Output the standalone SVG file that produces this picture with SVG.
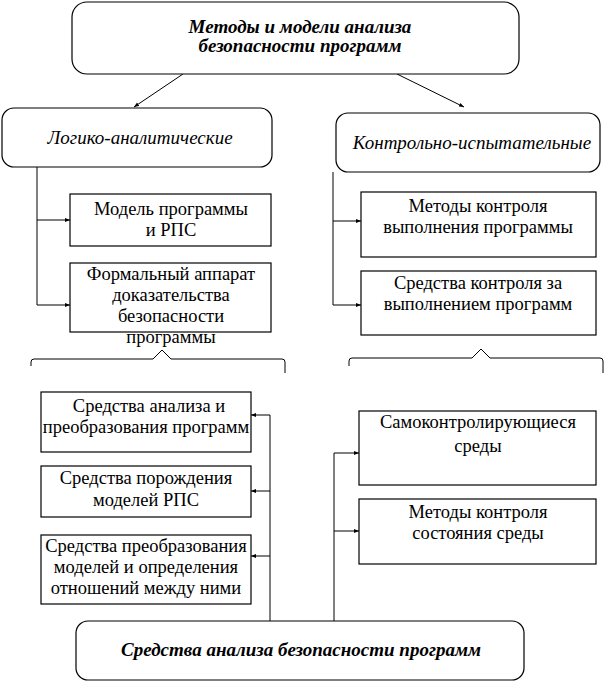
<svg xmlns="http://www.w3.org/2000/svg" width="605" height="682" viewBox="0 0 605 682">
<defs>
<marker id="ah" viewBox="0 0 10 10" refX="10" refY="5" markerWidth="5" markerHeight="5" orient="auto" markerUnits="userSpaceOnUse">
<path d="M0,1 L10,5 L0,9 Z" fill="#000"/>
</marker>
<style>
.box{fill:#fff;stroke:#000;stroke-width:1.2}
.rbox{fill:#fff;stroke:#000;stroke-width:1.2}
.t{font-family:"Liberation Serif","Times New Roman",serif;font-size:18.5px;fill:#000;text-anchor:middle}
.bi{font-family:"Liberation Serif","Times New Roman",serif;font-size:19px;font-weight:bold;font-style:italic;fill:#000;text-anchor:middle}
.it{font-family:"Liberation Serif","Times New Roman",serif;font-size:19px;font-style:italic;fill:#000;text-anchor:middle}
.c{fill:none;stroke:#000;stroke-width:1}
</style>
</defs>
<rect width="605" height="682" fill="#fff"/>

<g id="connectors">
<line class="c" x1="183" y1="74" x2="134" y2="107" marker-end="url(#ah)"/>
<line class="c" x1="397" y1="74" x2="464" y2="107" marker-end="url(#ah)"/>
<polyline class="c" points="37,167 37,305 70,305" marker-end="url(#ah)"/>
<line class="c" x1="37" y1="220" x2="70" y2="220" marker-end="url(#ah)"/>
<polyline class="c" points="333,172 333,305 361,305" marker-end="url(#ah)"/>
<line class="c" x1="333" y1="221" x2="361" y2="221" marker-end="url(#ah)"/>
<path class="c" d="M31,366 L31,362 Q31,359 34,359 L153,359 L162,350 L171,359 L282,359 Q285,359 285,362 L285,373"/>
<path class="c" d="M349,366 L349,361 Q349,358 352,358 L472,358 L481,349 L490,358 L600,358 Q603,358 603,361 L603,373"/>
<polyline class="c" points="270,621 270,415 251,415" marker-end="url(#ah)"/>
<line class="c" x1="270" y1="491" x2="251" y2="491" marker-end="url(#ah)"/>
<line class="c" x1="270" y1="556" x2="251" y2="556" marker-end="url(#ah)"/>
<polyline class="c" points="334,621 334,453 359,453" marker-end="url(#ah)"/>
<line class="c" x1="334" y1="531" x2="359" y2="531" marker-end="url(#ah)"/>
</g>

<g id="root">
<rect class="rbox" x="72" y="2" width="447" height="72" rx="15"/>
<text class="bi" x="300" y="33">Методы и модели анализа</text>
<text class="bi" x="300" y="52">безопасности программ</text>
</g>

<g id="logic">
<rect class="rbox" x="2" y="108" width="270" height="59" rx="12"/>
<text class="it" x="140" y="144">Логико-аналитические</text>
</g>

<g id="control">
<rect class="rbox" x="336" y="113" width="264" height="59" rx="12"/>
<text class="it" x="472" y="149">Контрольно-испытательные</text>
</g>

<g id="model">
<rect class="box" x="70" y="194" width="201" height="52"/>
<text class="t" x="171" y="215">Модель программы</text>
<text class="t" x="171" y="236">и РПС</text>
</g>

<g id="formal">
<rect class="box" x="70" y="263" width="201" height="69"/>
<text class="t" x="171" y="280">Формальный аппарат</text>
<text class="t" x="171" y="301">доказательства</text>
<text class="t" x="171" y="322">безопасности</text>
<text class="t" x="171" y="343">программы</text>
</g>

<g id="exec-methods">
<rect class="box" x="361" y="192" width="235" height="65"/>
<text class="t" x="478" y="212">Методы контроля</text>
<text class="t" x="478" y="233">выполнения программы</text>
</g>

<g id="exec-tools">
<rect class="box" x="361" y="271" width="235" height="64"/>
<text class="t" x="478" y="289">Средства контроля за</text>
<text class="t" x="478" y="310">выполнением программ</text>
</g>

<g id="analysis-tools">
<rect class="box" x="41" y="392" width="210" height="60"/>
<text class="t" x="149" y="412">Средства анализа и</text>
<text class="t" x="146" y="433">преобразования программ</text>
</g>

<g id="gen-tools">
<rect class="box" x="41" y="466" width="210" height="51"/>
<text class="t" x="146" y="484">Средства порождения</text>
<text class="t" x="146" y="506">моделей РПС</text>
</g>

<g id="transform-tools">
<rect class="box" x="41" y="535" width="210" height="69"/>
<text class="t" x="146" y="552">Средства преобразования</text>
<text class="t" x="146" y="573">моделей и определения</text>
<text class="t" x="146" y="594">отношений между ними</text>
</g>

<g id="self-control">
<rect class="box" x="359" y="411" width="237" height="74"/>
<text class="t" x="478" y="428">Самоконтролирующиеся</text>
<text class="t" x="478" y="452">среды</text>
</g>

<g id="env-methods">
<rect class="box" x="359" y="499" width="237" height="65"/>
<text class="t" x="478" y="518">Методы контроля</text>
<text class="t" x="478" y="539">состояния среды</text>
</g>

<g id="bottom">
<rect class="rbox" x="76" y="621" width="448" height="59" rx="12"/>
<text class="bi" x="301" y="656">Средства анализа безопасности программ</text>
</g>
</svg>
